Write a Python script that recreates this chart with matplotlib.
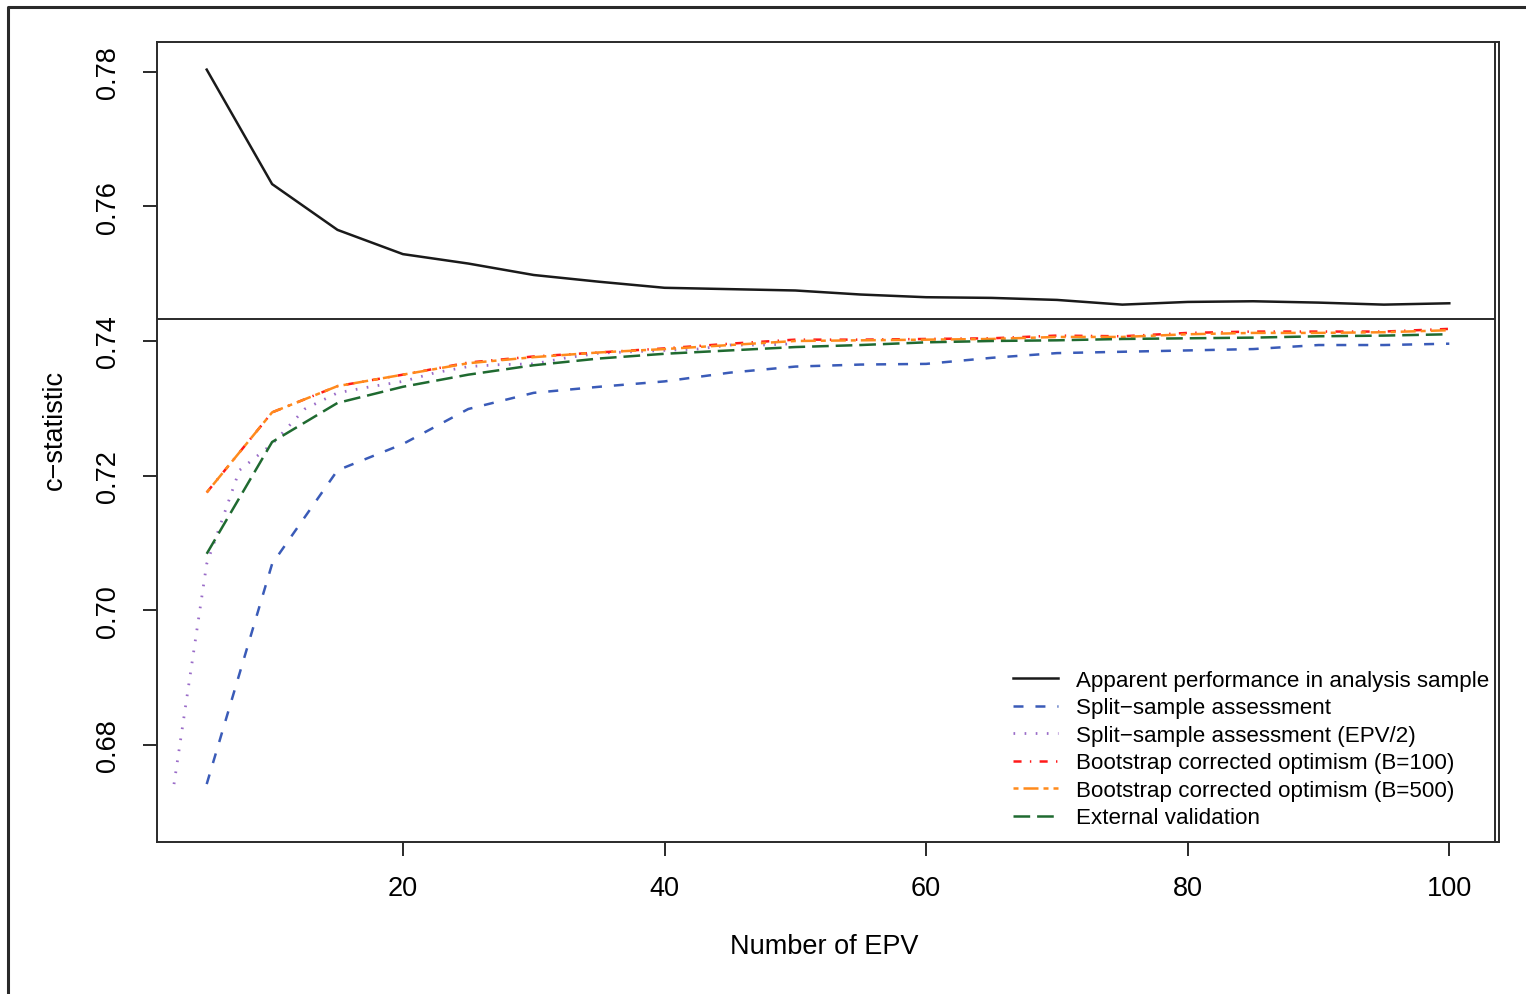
import matplotlib
matplotlib.use("Agg")
import matplotlib.pyplot as plt
from matplotlib.lines import Line2D
import numpy as np

plt.rcParams['font.family'] = ['Liberation Sans', 'DejaVu Sans']
plt.rcParams['lines.scale_dashes'] = False

# ---- data ----
epv = [5, 10, 15, 20, 25, 30, 35, 40, 45, 50, 55, 60, 65, 70, 75, 80, 85, 90, 95, 100]
apparent = [0.7803, 0.7633, 0.7565, 0.7529, 0.7515, 0.7498, 0.7488, 0.7479, 0.7477, 0.7475,
            0.7469, 0.7465, 0.7464, 0.7461, 0.7454, 0.7458, 0.7459, 0.7457, 0.7454, 0.7456]
split = [0.6742, 0.7069, 0.7208, 0.7247, 0.7299, 0.7323, 0.7332, 0.7340, 0.7353, 0.7362,
         0.7365, 0.7366, 0.7375, 0.7382, 0.7384, 0.7386, 0.7388, 0.7394, 0.7394, 0.7396]
epv_half = [e / 2 for e in epv]
boot100 = [0.7175, 0.7294, 0.7333, 0.7350, 0.7368, 0.7377, 0.7383, 0.7389, 0.7396, 0.7402,
           0.7402, 0.7403, 0.7404, 0.7408, 0.7407, 0.7412, 0.7414, 0.7414, 0.7414, 0.7418]
boot500 = [0.7175, 0.7294, 0.7333, 0.7350, 0.7367, 0.7376, 0.7383, 0.7388, 0.7394, 0.7400,
           0.7401, 0.7402, 0.7403, 0.7406, 0.7406, 0.7410, 0.7412, 0.7412, 0.7413, 0.7416]
external = [0.7084, 0.7250, 0.7308, 0.7332, 0.7350, 0.7364, 0.7374, 0.7381, 0.7386, 0.7391,
            0.7394, 0.7398, 0.7400, 0.7401, 0.7403, 0.7404, 0.7405, 0.7407, 0.7408, 0.7410]
ref_line = 0.7433
labels = ["Apparent performance in analysis sample",
          "Split\u2212sample assessment",
          "Split\u2212sample assessment (EPV/2)",
          "Bootstrap corrected optimism (B=100)",
          "Bootstrap corrected optimism (B=500)",
          "External validation"]
yticks = [0.68, 0.70, 0.72, 0.74, 0.76, 0.78]
xticks = [20, 40, 60, 80, 100]

W, H = 1526, 995
fig = plt.figure(figsize=(W / 100, H / 100), dpi=100)
ax = fig.add_axes([157 / W, (H - 843) / H, (1499 - 157) / W, 800 / H])

lw = 1.8
ax.plot(epv, apparent, color='#1a1a1a', lw=lw, label=labels[0])
ax.plot(epv, split, color='#3a5bb8', lw=lw, dashes=(7.2, 8.6), label=labels[1])
ax.plot(epv_half, split, color='#9a6cc8', lw=2.0, dashes=(1.2, 6.8), label=labels[2])
ax.plot(epv, boot100, color='#ff1a1a', lw=lw, dashes=(5.8, 6.0, 1.0, 6.0), label=labels[3])
ax.plot(epv, boot500, color='#ff8a1c', lw=lw, dashes=(3.6, 3.6, 10.8, 3.6), label=labels[4])
ax.plot(epv, external, color='#1f6a30', lw=lw, dashes=(12, 5), label=labels[5])

ax.set_xlim(1.2, 103.8)
ax.set_ylim(0.6656, 0.7844)
ax.hlines(ref_line, 1.2, 103.5, color='#2a2a2a', lw=1.4)
ax.axvline(103.5, color='#2a2a2a', lw=1.4)

for s in ax.spines.values():
    s.set_linewidth(1.4)
    s.set_color('#2a2a2a')

ax.set_xticks(xticks)
ax.set_xticklabels([str(t) for t in xticks], fontsize=19.5)
ax.set_yticks(yticks)
ax.set_yticklabels(["%.2f" % t for t in yticks], fontsize=19.5, rotation=90, va='center')
ax.tick_params(axis='both', length=10, width=1.4, color='#2a2a2a', direction='out')
ax.tick_params(axis='x', pad=14)
ax.tick_params(axis='y', pad=16)

fig.text(824 / W, 1 - 947 / H, "Number of EPV", ha='center', va='center', fontsize=19.5)
fig.text(55 / W, 1 - 430 / H, "c\u2212statistic", ha='center', va='center', rotation=90, fontsize=19.5)

leg = ax.legend(loc='upper left', bbox_to_anchor=((1013 - 157) / 1342, (843 - 671) / 800),
                frameon=False, fontsize=16.1, handlelength=2.0, handletextpad=0.8,
                labelspacing=0.29, borderpad=0, borderaxespad=0)

# outer frame
fig.add_artist(Line2D([8 / W, 8 / W, 1], [0, 1 - 8 / H, 1 - 8 / H], transform=fig.transFigure,
                      color='#2a2a2a', lw=2.2))

fig.savefig("out.png", dpi=100)
